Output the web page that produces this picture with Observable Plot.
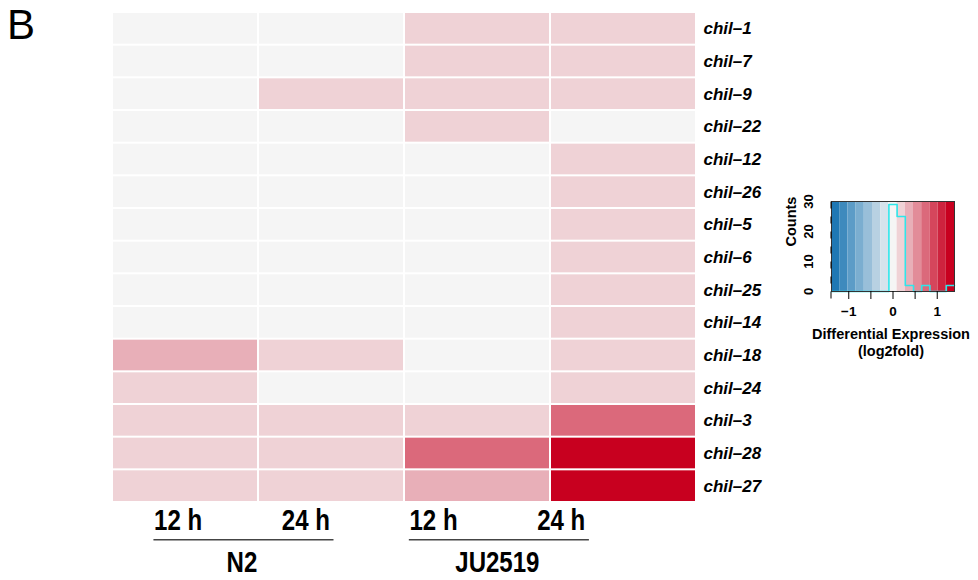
<!DOCTYPE html>
<html><head><meta charset="utf-8">
<script src="https://cdn.jsdelivr.net/npm/d3@7"></script>
<script src="https://cdn.jsdelivr.net/npm/@observablehq/plot@0.6"></script>
<style>
body{margin:0;background:#fff;}
#wrap{position:relative;width:978px;height:580px;overflow:hidden;font-family:"Liberation Sans",Arial,sans-serif;background:#fff;}
.abs{position:absolute;}
#annot svg{transform:scaleX(0.83);transform-origin:0 0;}
</style></head><body>
<div id="wrap">
 <div class="abs" id="heat" style="left:0;top:0"></div>
 <div class="abs" id="annot" style="left:0;top:495px"></div>
 <div class="abs" id="legend" style="left:780px;top:180px"></div>
 <div class="abs" id="panel" style="left:7px;top:4px;font-size:42px;line-height:42px;">B</div>
 <div class="abs" id="ltitle" style="left:791px;top:326px;width:200px;text-align:center;font-weight:bold;font-size:14.5px;line-height:17px;">Differential Expression<br>(log2fold)</div>
</div>
<script>
// ---- data ----
const genes = ["chil–1","chil–7","chil–9","chil–22","chil–12","chil–26","chil–5","chil–6","chil–25","chil–14","chil–18","chil–24","chil–3","chil–28","chil–27"];
const strains = ["N2","JU2519"];
const times = ["12 h","24 h"];
const n2_12h     = [0,   0,   0,   0,   0,   0,   0,   0,   0,   0,   0.4, 0.2, 0.2, 0.2,  0.2];
const n2_24h     = [0,   0,   0.2, 0,   0,   0,   0,   0,   0,   0,   0.2, 0,   0.2, 0.2,  0.2];
const ju2519_12h = [0.2, 0.2, 0.2, 0.2, 0,   0,   0,   0,   0,   0,   0,   0,   0.2, 0.75, 0.4];
const ju2519_24h = [0.2, 0.2, 0.2, 0,   0.2, 0.2, 0.2, 0.2, 0.2, 0.2, 0.2, 0.2, 0.75, 1.39, 1.39];
const seriesValues = [n2_12h, n2_24h, ju2519_12h, ju2519_24h];
const palette = ["#1F78B4","#3E8ABD","#5C9CC7","#7BAED0","#99BFD9","#B8D1E2","#D6E3EC","#F5F5F5",
                 "#EFD2D6","#E8AFB8","#E28C99","#DB697B","#D5465C","#CE233E","#C8001F"];
const countTicks = [0,5,10,15,20,25,30];
const foldTicks = [-1,-0.5,0,0.5,1];

// ---- derived tables ----
const nBins = palette.length;
const conditions = strains.flatMap(s => times.map(t => `${s} ${t}`));
const cells = conditions.flatMap((c, j) => genes.map((g, i) => ({gene: g, condition: c, value: seriesValues[j][i]})));
const maxAbs = d3.max(cells, d => Math.abs(d.value));
const breaks = d3.range(nBins + 1).map(k => -maxAbs + 2 * maxAbs * k / nBins);
const thresholds = breaks.slice(1, -1);
const color = {type: "threshold", domain: thresholds, range: palette};
const counts = new Array(nBins).fill(0);
cells.forEach(d => { counts[Math.min(nBins - 1, Math.floor((d.value + maxAbs) / (2 * maxAbs) * nBins))]++; });
const legendBins = d3.range(nBins).map(k => ({x1: breaks[k], x2: breaks[k + 1], mid: (breaks[k] + breaks[k + 1]) / 2}));
const stepPts = d3.range(nBins).flatMap(k => [{x: breaks[k], y: counts[k]}, {x: breaks[k + 1], y: counts[k]}]);
const timeLabels = strains.flatMap(s => times);

const sans = "'Liberation Sans', Arial, sans-serif";
const squeeze = 0.83; // horizontal condensing of the column annotation (matches the narrow face)

// ---- heatmap ----
const heat = Plot.plot({
  width: 978, height: 504, marginLeft: 112, marginRight: 282, marginTop: 12, marginBottom: 2,
  style: {fontFamily: sans, background: "transparent"},
  x: {domain: conditions, axis: null, padding: 0, round: false},
  y: {domain: genes, padding: 0, round: false},
  color,
  marks: [
    Plot.cell(cells, {x: "condition", y: "gene", fill: "value", inset: 1}),
    Plot.axisY({anchor: "right", tickSize: 0, tickPadding: 7, fontSize: 17, fontWeight: "bold", fontStyle: "italic", label: null})
  ]
});
document.getElementById("heat").append(heat);

// ---- column annotation ----
const annot = Plot.plot({
  width: 978, height: 85, margin: 0,
  style: {fontFamily: sans, background: "transparent", overflow: "visible"},
  x: {type: "linear", domain: [0, 4], range: [113.85 / squeeze, 624.65 / squeeze], axis: null},
  marks: [
    Plot.text(timeLabels, {x: (d, i) => i + 0.5, text: d => d, frameAnchor: "top", lineAnchor: "middle", dy: 25, fontSize: 29, fontWeight: "bold"}),
    Plot.rect(strains, {x1: (d, i) => 2 * i + 0.31, x2: (d, i) => 2 * i + 1.72, insetTop: 44, insetBottom: 39.5, fill: "#444"}),
    Plot.text(strains, {x: (d, i) => 2 * i + 1, text: d => d, frameAnchor: "top", lineAnchor: "middle", dy: 67, fontSize: 29, fontWeight: "bold"})
  ]
});
document.getElementById("annot").append(annot);

// ---- colour key with histogram ----
const legend = Plot.plot({
  width: 198, height: 145, marginLeft: 51, marginRight: 24, marginTop: 21, marginBottom: 34,
  style: {fontFamily: sans, background: "transparent"},
  x: {domain: [-maxAbs, maxAbs]},
  y: {domain: [0, 30]},
  color,
  marks: [
    Plot.rect(legendBins, {x1: "x1", x2: "x2", fill: "mid"}),
    Plot.line(stepPts, {x: "x", y: "y", stroke: "#2ee6ea", strokeWidth: 1.6}),
    Plot.frame({stroke: "#333"}),
    Plot.axisX({ticks: foldTicks, tickSize: 8, tickPadding: 7, fontSize: 13.5, fontWeight: "bold", label: null,
      tickFormat: d => Number.isInteger(d) ? (d < 0 ? "−" + (-d) : String(d)) : ""}),
    Plot.axisY({ticks: countTicks, tickSize: 7, tickPadding: 16, rotate: -90, textAnchor: "middle", fontSize: 13, fontWeight: "bold", label: null,
      tickFormat: d => d % 10 ? "" : String(d)}),
    Plot.text(["Counts"], {frameAnchor: "left", dx: -40, rotate: -90, fontSize: 14.5, fontWeight: "bold"})
  ]
});
document.getElementById("legend").append(legend);
</script>
</body></html>
